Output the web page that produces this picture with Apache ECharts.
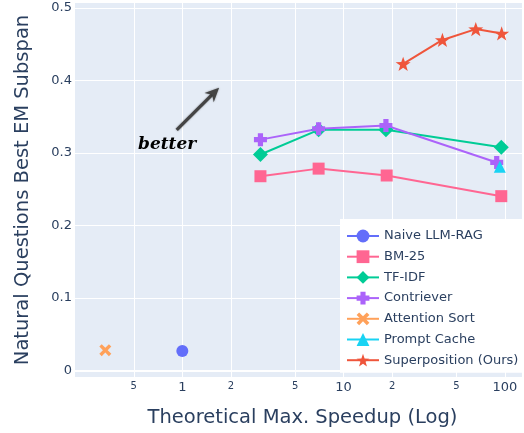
<!DOCTYPE html>
<html>
<head>
<meta charset="utf-8">
<script src="https://cdn.jsdelivr.net/npm/echarts@6/dist/echarts.min.js"></script>
<style>html,body{margin:0;padding:0;background:#fff}#c{width:524px;height:433px}</style>
</head>
<body>
<div id="c"></div>
<script>
// ---- data ----
const naiveX = [1];            const naiveY = [0.027];
const bm25X = [3.05, 7.0, 18.5, 95];   const bm25Y = [0.268, 0.2785, 0.269, 0.2405];
const tfidfX = [3.05, 7.0, 18.3, 95];  const tfidfY = [0.298, 0.332, 0.332, 0.308];
const contrX = [3.05, 7.0, 18.3, 89];  const contrY = [0.3185, 0.3335, 0.338, 0.287];
const attnX = [0.333];         const attnY = [0.028];
const pcX = [93];              const pcY = [0.281];
const supX = [23.4, 41, 66, 95.5];     const supY = [0.423, 0.456, 0.471, 0.465];
const xTicks = [0.5, 1, 2, 5, 10, 20, 50, 100];
const xMajor = [1, 10, 100];
const yTicks = [0, 0.1, 0.2, 0.3, 0.4, 0.5];

const zip = (xs, ys) => xs.map((x, i) => [x, ys[i]]);
const FONT = 'DejaVu Sans';
const TXT = '#2a3f5f';

const plusPath = 'path://M3,0H7V3H10V7H7V10H3V7H0V3H3Z';
const xPath = 'path://M2,0L5,3L8,0L10,2L7,5L10,8L8,10L5,7L2,10L0,8L3,5L0,2Z';
const starPath = 'path://M50,0L61.76,33.82L97.55,34.55L69.02,56.18L79.39,90.45L50,70L20.61,90.45L30.98,56.18L2.45,34.55L38.24,33.82Z';

function mk(name, data, color, symbol, size) {
  return {
    name, type: 'line', data, symbol, symbolSize: size, symbolKeepAspect: true,
    itemStyle: { color }, lineStyle: { color, width: 2 },
    emphasis: { disabled: true }, animation: false
  };
}

const chart = echarts.init(document.getElementById('c'));
const series = [
  mk('Naive LLM-RAG', zip(naiveX, naiveY), '#636EFA', 'circle', 12),
  mk('BM-25', zip(bm25X, bm25Y), '#FF6692', 'rect', 12),
  mk('TF-IDF', zip(tfidfX, tfidfY), '#00CC96', 'diamond', 15),
  mk('Contriever', zip(contrX, contrY), '#AB63FA', plusPath, 13),
  mk('Attention Sort', zip(attnX, attnY), '#FFA15A', xPath, 12),
  mk('Prompt Cache', zip(pcX, pcY), '#19D3F3', 'triangle', 12),
  mk('Superposition (Ours)', zip(supX, supY), '#EF553B', starPath, 15)
];
series[0].markLine = {
  silent: true, symbol: 'none', label: { show: false },
  lineStyle: { color: '#fff', width: 2, type: 'solid' },
  data: [{ yAxis: 0 }], animation: false
};

chart.setOption({
  animation: false,
  backgroundColor: '#fff',
  grid: { left: 75, right: 2, top: 3, bottom: 55, show: true, backgroundColor: '#E5ECF6', borderWidth: 0 },
  xAxis: {
    type: 'log', logBase: 10, min: 0.216, max: 127.7,
    name: 'Theoretical Max. Speedup (Log)', nameLocation: 'middle', nameGap: 31,
    nameTextStyle: { fontFamily: FONT, fontSize: 19.5, color: TXT, padding: [0, 0, 0, 8] },
    axisLine: { show: false }, axisTick: { show: false, customValues: xTicks },
    splitLine: { show: true, lineStyle: { color: '#fff', width: 1 } },
    minorSplitLine: { show: false },
    axisLabel: {
      customValues: xTicks, margin: 4, verticalAlign: 'top',
      formatter: v => (xMajor.indexOf(+v) >= 0 ? '{a|' + v + '}' : '{b|' + String(v).replace('0.', '').replace(/0$/, '') + '}'),
      rich: {
        a: { fontFamily: FONT, fontSize: 13, color: TXT },
        b: { fontFamily: FONT, fontSize: 10, color: TXT }
      }
    }
  },
  yAxis: {
    type: 'value', min: -0.009, max: 0.507,
    name: 'Natural Questions Best EM Subspan', nameLocation: 'middle', nameGap: 42,
    nameTextStyle: { fontFamily: FONT, fontSize: 19.5, color: TXT },
    axisLine: { show: false }, axisTick: { show: false, customValues: yTicks },
    splitLine: { show: true, lineStyle: { color: '#fff', width: 1 } },
    axisLabel: {
      customValues: yTicks, margin: 3, fontFamily: FONT, fontSize: 13, color: TXT,
      formatter: v => (v === 0 ? '0' : (+v).toFixed(1))
    }
  },
  legend: {
    orient: 'vertical', left: 340, top: 219,
    backgroundColor: '#fff', padding: [10.5, 6, 6, 6],
    itemWidth: 32, itemHeight: 16, itemGap: 7.7,
    textStyle: { fontFamily: FONT, fontSize: 13, color: TXT },
    data: series.map(s => s.name)
  },
  series
});

// annotation: arrow + "better", anchored in data coordinates
const tail = chart.convertToPixel({ gridIndex: 0 }, [0.923, 0.332]);
const head = chart.convertToPixel({ gridIndex: 0 }, [1.69, 0.390]);
const txt = chart.convertToPixel({ gridIndex: 0 }, [0.805, 0.3115]);
const dx = head[0] - tail[0], dy = head[1] - tail[1];
const L = Math.hypot(dx, dy), ux = dx / L, uy = dy / L, nx = -uy, ny = ux;
const hl = 14, hw = 6.5;
chart.setOption({
  graphic: [
    { type: 'line', silent: true, shape: { x1: tail[0], y1: tail[1], x2: head[0] - ux * 8, y2: head[1] - uy * 8 },
      style: { stroke: '#444', lineWidth: 3.2, shadowBlur: 2, shadowColor: 'rgba(0,0,0,0.4)' } },
    { type: 'polygon', silent: true, shape: { points: [
        [head[0], head[1]],
        [head[0] - ux * hl + nx * hw, head[1] - uy * hl + ny * hw],
        [head[0] - ux * hl * 0.7, head[1] - uy * hl * 0.7],
        [head[0] - ux * hl - nx * hw, head[1] - uy * hl - ny * hw]
      ] }, style: { fill: '#444', shadowBlur: 2, shadowColor: 'rgba(0,0,0,0.4)' } },
    { type: 'text', silent: true, x: txt[0], y: txt[1],
      style: { text: 'better', fontFamily: 'DejaVu Serif', fontWeight: 'bold', fontStyle: 'italic', fontSize: 17,
               fill: '#000', align: 'center', verticalAlign: 'middle' } }
  ]
});
</script>
</body>
</html>
